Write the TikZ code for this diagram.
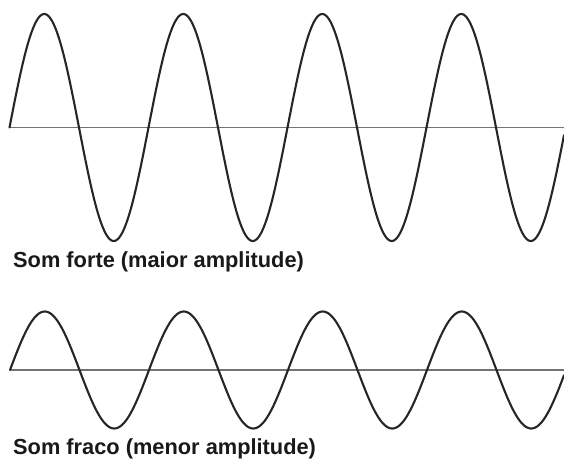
\documentclass[tikz,border=0pt]{standalone}
\usepackage{fontspec}
\setmainfont{Liberation Sans}
\begin{document}
\begin{tikzpicture}[x=1pt,y=-1pt,
  wave/.style={line width=2.1pt, draw=black!85, line join=round, line cap=round},
  axisline/.style={line width=1.7pt, draw=black!55},
  wavetext/.style={anchor=base west, inner sep=0pt, font=\fontsize{21.8}{22}\selectfont\bfseries, text=black!90}]
\useasboundingbox (0,0) rectangle (564,460);
% strong sound
\coordinate (a1) at (9.5,127.5);
\coordinate (a2) at (564,127.5);
\draw[axisline] (a1) -- (a2);
\draw[wave] plot[domain=9.5:564, samples=400, smooth] (\x, {127.5 - 113.5*sin(2.58993*(\x-9.5))});
\node[wavetext] (forte) at (13,267) {Som forte (maior amplitude)};
% weak sound
\coordinate (b1) at (10,370);
\coordinate (b2) at (564,370);
\draw[axisline, line width=1.2pt] (b1) -- (b2);
\draw[wave] plot[domain=10:564, samples=400, smooth] (\x, {370 - 58.5*sin(2.58993*(\x-10))});
\node[wavetext] (fraco) at (13,454) {Som fraco (menor amplitude)};
\end{tikzpicture}
\end{document}
